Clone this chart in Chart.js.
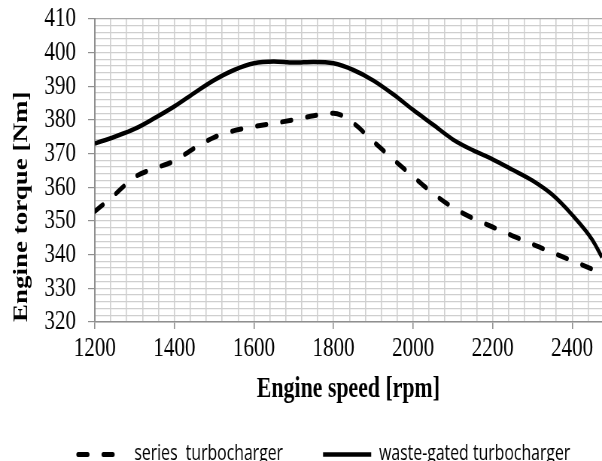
<!DOCTYPE html>
<html>
<head>
<meta charset="utf-8">
<script src="https://cdn.jsdelivr.net/npm/chart.js@4"></script>
<style>
  html, body { margin: 0; padding: 0; background: #fff; }
</style>
</head>
<body>
<!-- the reference is squeezed sideways, so the chart is drawn 800 wide and shown 602 wide -->
<canvas id="chart" width="800" height="461" style="display:block;width:602px;height:461px"></canvas>
<script>
const rpm = [1200, 1250, 1300, 1350, 1400, 1450, 1500, 1550, 1600, 1650, 1700, 1750, 1800,
             1850, 1900, 1950, 2000, 2050, 2100, 2150, 2200, 2250, 2300, 2350, 2400, 2450, 2475];
const seriesTorque = [352.8, 357.8, 363, 365.6, 367.8, 371.6, 374.8, 376.8, 378, 379, 380, 381.2, 382,
                      379, 373.6, 368.3, 363.2, 358.2, 354, 350.8, 348.2, 345.6, 343.1, 340.6, 338.2, 335.7, 334.3];
const wasteGatedTorque = [373, 375, 377.3, 380.5, 384, 388, 391.8, 394.8, 396.8, 397.3, 397, 397.2, 396.8,
                          394.8, 391.7, 387.6, 383, 378.6, 374.2, 371, 368.3, 365.2, 362, 357.8, 351.8, 344.5, 339.2];
const xTicks = [1200, 1400, 1600, 1800, 2000, 2200, 2400];
const yTicks = [320, 330, 340, 350, 360, 370, 380, 390, 400, 410];
const seriesNames = ['series  turbocharger', 'waste-gated turbocharger'];

const pts = ys => rpm.map((x, i) => ({ x: x, y: ys[i] }));

const gridColor = '#cfcfcf';
const axisColor = '#8f8f8f';
// trailing blanks only space the legend items out
const legendPad = [9, 7];

new Chart(document.getElementById('chart'), {
  type: 'line',
  data: {
    datasets: [
      {
        label: seriesNames[0],
        data: pts(seriesTorque),
        borderColor: '#000',
        borderWidth: 5,
        borderDash: [12.5, 21],
        borderCapStyle: 'round',
        pointRadius: 0,
        cubicInterpolationMode: 'monotone'
      },
      {
        label: seriesNames[1],
        data: pts(wasteGatedTorque),
        borderColor: '#000',
        borderWidth: 4.5,
        pointRadius: 0,
        cubicInterpolationMode: 'monotone'
      }
    ]
  },
  options: {
    responsive: false,
    animation: false,
    devicePixelRatio: 1,
    layout: { padding: { top: 0, right: 0, left: 0, bottom: -14 } },
    plugins: {
      tooltip: { enabled: false },
      legend: {
        position: 'bottom',
        align: 'end',
        labels: {
          usePointStyle: true,
          pointStyleWidth: 64,
          padding: 4,
          color: '#000',
          font: { family: 'Open Sans', size: 21 },
          generateLabels: chart => chart.data.datasets.map((ds, i) => ({
            text: ds.label + ' '.repeat(legendPad[i]),
            fillStyle: '#000',
            strokeStyle: '#000',
            lineWidth: ds.borderWidth,
            lineDash: ds.borderDash || [],
            lineCap: ds.borderCapStyle || 'butt',
            pointStyle: 'line',
            hidden: false,
            datasetIndex: i
          }))
        }
      }
    },
    scales: {
      x: {
        type: 'linear',
        min: 1200,
        max: 2475,
        afterFit: s => { s.height = 118; },
        ticks: {
          stepSize: 40,
          autoSkip: false,
          includeBounds: false,
          maxRotation: 0,
          padding: 3,
          color: '#000',
          font: { family: 'Liberation Serif', size: 28 },
          callback: v => xTicks.includes(v) ? String(v) : ''
        },
        grid: {
          color: gridColor,
          lineWidth: 1.6,
          tickLength: 7,
          tickColor: c => xTicks.includes(c.tick.value) ? axisColor : 'rgba(0,0,0,0)'
        },
        border: { color: axisColor, width: 1.5 },
        title: {
          display: true,
          text: 'Engine speed [rpm]',
          color: '#000',
          font: { family: 'Liberation Serif', size: 29, weight: 'bold' },
          padding: { top: 0, bottom: 33 }
        }
      },
      y: {
        min: 320,
        max: 410,
        afterFit: s => { s.width = 126; },
        ticks: {
          stepSize: 2,
          autoSkip: false,
          padding: 2,
          color: '#000',
          font: { family: 'Liberation Serif', size: 28 },
          // two trailing blanks keep the numbers clear of the tick marks
          callback: v => yTicks.includes(v) ? v + '  ' : ''
        },
        grid: {
          color: c => c.tick.value === 410 ? '#a8a8a8' : gridColor,
          lineWidth: 1.2,
          tickLength: 9,
          tickColor: c => yTicks.includes(c.tick.value) ? axisColor : 'rgba(0,0,0,0)'
        },
        border: { color: axisColor, width: 2 },
        title: {
          display: true,
          text: 'Engine torque [Nm]',
          align: 'start',
          color: '#000',
          font: { family: 'Liberation Serif', size: 27, weight: 'bold' },
          padding: { top: 13, bottom: 0 }
        }
      }
    }
  }
});
</script>
</body>
</html>
